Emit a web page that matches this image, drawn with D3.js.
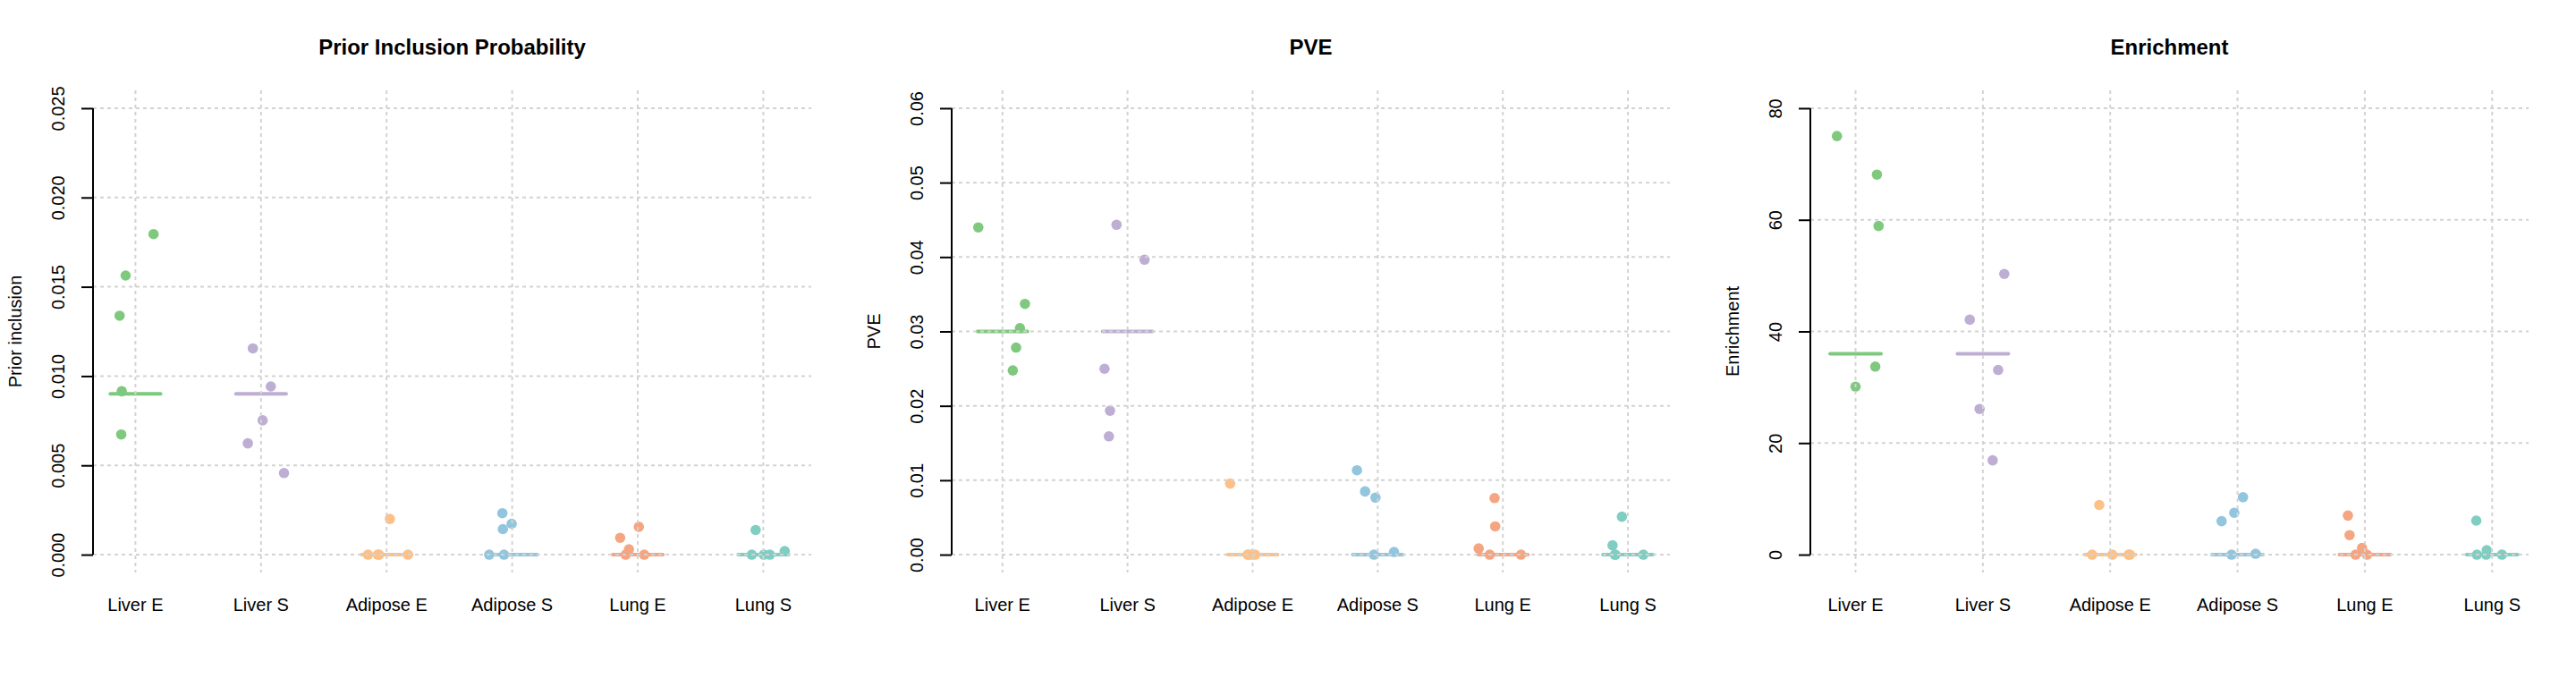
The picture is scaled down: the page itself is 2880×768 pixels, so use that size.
<!DOCTYPE html>
<html>
<head>
<meta charset="utf-8">
<script src="https://cdn.jsdelivr.net/npm/d3@7"></script>
<style>
  body { margin: 0; background: #fff; }
  svg text { font-family: "Liberation Sans", Arial, Helvetica, sans-serif; }
</style>
</head>
<body>
<div id="chart"></div>
<script>
var categories = ["Liver E", "Liver S", "Adipose E", "Adipose S", "Lung E", "Lung S"];
var colors = ["#7fc97f", "#beaed4", "#fdc086", "#92c5de", "#f4a582", "#80cdc1"];

// prior inclusion probability, 5 runs per category
var priorValues = [
	[0.01795, 0.01563, 0.01338, 0.00915, 0.00673],
	[0.01155, 0.00942, 0.00752, 0.00623, 0.00457],
	[0.0020, 0, 0, 0, 0],
	[0.00232, 0.00173, 0.00143, 0, 0],
	[0.00094, 0.00156, 0.0003, 0, 0],
	[0.00138, 0.0002, 0, 0, 0]
];
var priorJitter = [
	[0.144, -0.078, -0.126, -0.109, -0.113],
	[-0.065, 0.078, 0.013, -0.105, 0.183],
	[0.026, -0.148, -0.07, 0.17, -0.06],
	[-0.078, -0.004, -0.074, -0.183, -0.065],
	[-0.14, 0.009, -0.07, -0.096, 0.052],
	[-0.061, 0.17, -0.092, 0.004, 0.052]
];
var priorTruth = [0.009, 0.009, 0, 0, 0, 0];
var priorTicks = [0, 0.005, 0.010, 0.015, 0.020, 0.025];

// PVE
var pveValues = [
	[0.04398, 0.0337, 0.03045, 0.02783, 0.02475],
	[0.04433, 0.03964, 0.02498, 0.01935, 0.0159],
	[0.00955, 0, 0, 0, 0],
	[0.01134, 0.00849, 0.00766, 0, 0.00036],
	[0.0076, 0.0038, 0.00083, 0, 0],
	[0.0051, 0.00125, 0, 0, 0]
];
var pveJitter = [
	[-0.193, 0.18, 0.14, 0.109, 0.083],
	[-0.088, 0.136, -0.184, -0.14, -0.149],
	[-0.18, -0.04, -0.005, 0.02, -0.03],
	[-0.166, -0.101, -0.018, -0.03, 0.13],
	[-0.066, -0.061, -0.193, -0.105, 0.145],
	[-0.048, -0.123, -0.105, 0.123, -0.1]
];
var pveTruth = [0.03, 0.03, 0, 0, 0, 0];
var pveTicks = [0, 0.01, 0.02, 0.03, 0.04, 0.05, 0.06];

// enrichment
var enrichValues = [
	[75.0, 68.1, 58.9, 33.7, 30.1],
	[50.3, 42.1, 33.1, 26.1, 16.9],
	[8.9, 0, 0, 0, 0],
	[10.3, 7.5, 6.0, 0, 0.16],
	[7.0, 3.5, 1.2, 0, 0],
	[6.1, 0.8, 0, 0, 0]
];
var enrichJitter = [
	[-0.146, 0.168, 0.181, 0.155, 0.0],
	[0.168, -0.103, 0.12, -0.026, 0.077],
	[-0.086, -0.142, 0.017, 0.155, 0.145],
	[0.043, -0.026, -0.125, -0.047, 0.142],
	[-0.133, -0.12, -0.022, -0.073, 0.017],
	[-0.125, -0.043, -0.12, -0.047, 0.077]
];
var enrichTruth = [36, 36, 0, 0, 0, 0];
var enrichTicks = [0, 20, 40, 60, 80];

var panel_size = {w:960, h:768};
var plot_box = {left:104, right:907, top:101, bottom:640};
var seg_half = 0.2;

var svg = d3.select("#chart")
	.append("svg")
	.attr("width", panel_size.w*3)
	.attr("height", panel_size.h);

// R style: data range plus 4% on each side
function padded(ext) {
	var d = (ext[1]-ext[0])*0.04;
	return [ext[0]-d, ext[1]+d];
}

function drawPanel(offset, title, ylabel, values, jitter, truth, ticks, fmt) {
	var g = svg.append("g").attr("transform", "translate(" + offset + ",0)");

	var points = [];
	values.forEach(function(vals, c) {
		vals.forEach(function(v, j) {
			points.push({cat:c, x:c+1+jitter[c][j], y:v});
		});
	});

	var x = d3.scaleLinear()
		.domain(padded(d3.extent(points, function(d) { return d.x; })))
		.range([plot_box.left, plot_box.right]);
	var y = d3.scaleLinear()
		.domain(padded([0, d3.max(ticks)]))
		.range([plot_box.bottom, plot_box.top]);

	// points
	g.selectAll(".pt")
		.data(points)
		.enter().append("circle")
		.attr("class", "pt")
		.attr("cx", function(d) { return x(d.x); })
		.attr("cy", function(d) { return y(d.y); })
		.attr("r", 5.8)
		.attr("fill", function(d) { return colors[d.cat]; });

	// truth segments
	g.selectAll(".truth")
		.data(truth)
		.enter().append("line")
		.attr("class", "truth")
		.attr("x1", function(d, i) { return x(i+1-seg_half); })
		.attr("x2", function(d, i) { return x(i+1+seg_half); })
		.attr("y1", function(d) { return y(d); })
		.attr("y2", function(d) { return y(d); })
		.attr("stroke", function(d, i) { return colors[i]; })
		.attr("stroke-width", 4)
		.attr("stroke-linecap", "round");

	// grid, drawn on top like in the original
	g.selectAll(".hgrid")
		.data(ticks)
		.enter().append("line")
		.attr("x1", plot_box.left).attr("x2", plot_box.right)
		.attr("y1", function(d) { return y(d); })
		.attr("y2", function(d) { return y(d); })
		.attr("stroke", "#d3d3d3")
		.attr("stroke-width", 2)
		.attr("stroke-dasharray", "4,4");
	g.selectAll(".vgrid")
		.data(categories)
		.enter().append("line")
		.attr("x1", function(d, i) { return x(i+1); })
		.attr("x2", function(d, i) { return x(i+1); })
		.attr("y1", plot_box.top).attr("y2", plot_box.bottom)
		.attr("stroke", "#d3d3d3")
		.attr("stroke-width", 2)
		.attr("stroke-dasharray", "4,4");

	// y axis
	var axis = d3.axisLeft(y).tickValues(ticks).tickSize(13).tickFormat(d3.format(fmt));
	var ax = g.append("g")
		.attr("transform", "translate(" + plot_box.left + ",0)")
		.call(axis);
	ax.select(".domain")
		.attr("d", "M0," + y(ticks[0]) + "V" + y(ticks[ticks.length-1]))
		.attr("stroke-width", 2);
	ax.selectAll(".tick line").attr("stroke-width", 2);
	ax.selectAll(".tick text")
		.attr("x", null).attr("dy", null)
		.attr("transform", "translate(-32,0) rotate(-90)")
		.attr("text-anchor", "middle")
		.attr("font-size", "20px")
		.attr("fill", "#000");

	// category labels
	g.selectAll(".catlabel")
		.data(categories)
		.enter().append("text")
		.attr("x", function(d, i) { return x(i+1); })
		.attr("y", 683)
		.attr("text-anchor", "middle")
		.attr("font-size", "20px")
		.text(function(d) { return d; });

	g.append("text")
		.attr("x", (plot_box.left+plot_box.right)/2)
		.attr("y", 61)
		.attr("text-anchor", "middle")
		.attr("font-size", "24px")
		.attr("font-weight", "bold")
		.text(title);

	g.append("text")
		.attr("transform", "translate(24," + (plot_box.top+plot_box.bottom)/2 + ") rotate(-90)")
		.attr("text-anchor", "middle")
		.attr("font-size", "20px")
		.text(ylabel);
}

drawPanel(0, "Prior Inclusion Probability", "Prior inclusion", priorValues, priorJitter, priorTruth, priorTicks, ".3f");
drawPanel(960, "PVE", "PVE", pveValues, pveJitter, pveTruth, pveTicks, ".2f");
drawPanel(1920, "Enrichment", "Enrichment", enrichValues, enrichJitter, enrichTruth, enrichTicks, "d");
</script>
</body>
</html>
